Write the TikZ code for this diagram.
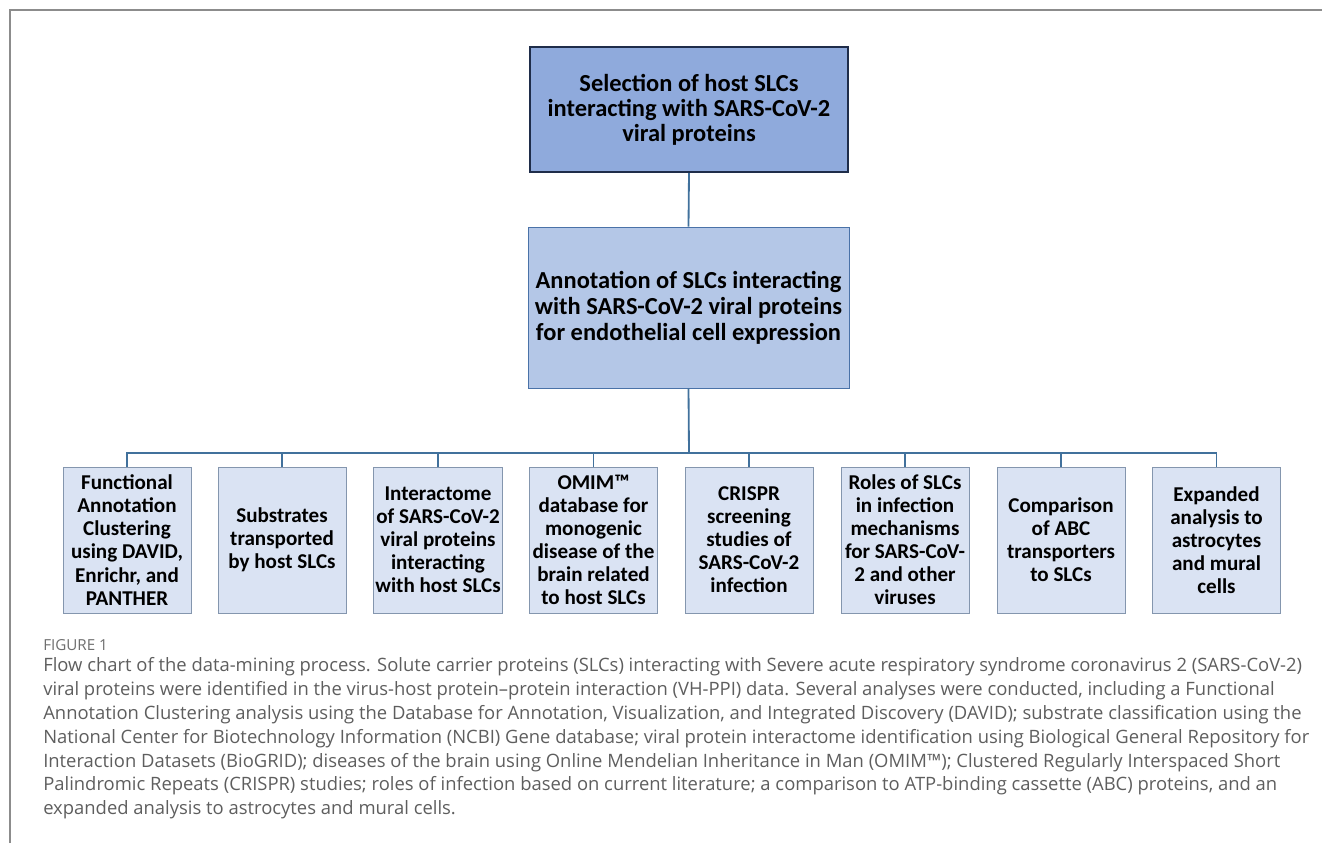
\documentclass[tikz,border=0pt]{standalone}
\usepackage{fontspec}
\setmainfont{Carlito}
\newfontfamily\capfont{Open Sans}
\usetikzlibrary{positioning}
\definecolor{selfill}{HTML}{8FAADC}
\definecolor{seledge}{HTML}{1F2D4A}
\definecolor{annfill}{HTML}{B4C7E7}
\definecolor{annedge}{HTML}{4A72A8}
\definecolor{subfill}{HTML}{DAE3F3}
\definecolor{subedge}{HTML}{8496AE}
\definecolor{linkcol}{HTML}{41719C}
\definecolor{framecol}{HTML}{8C8C8C}
\definecolor{captxt}{HTML}{5E5E5E}
\definecolor{figtxt}{HTML}{6E6E6E}

\begin{document}
\begin{tikzpicture}[x=0.025cm, y=-0.025cm,
  selbox/.style={rectangle, draw=seledge, line width=1.4pt, fill=selfill,
                 minimum width=7.95cm, minimum height=3.125cm, align=center,
                 font=\fontsize{17.4}{17.8}\selectfont\bfseries},
  annbox/.style={rectangle, draw=annedge, line width=0.6pt, fill=annfill,
                 minimum width=8.025cm, minimum height=4.025cm, align=center,
                 font=\fontsize{17.4}{18.6}\selectfont\bfseries},
  subbox/.style={rectangle, draw=subedge, line width=0.6pt, fill=subfill,
                 minimum width=3.2cm, minimum height=3.65cm, align=center,
                 inner sep=1pt, font=\fontsize{15}{16.4}\selectfont\bfseries},
  link/.style={draw=linkcol, line width=1.3pt},
  captext/.style={text=captxt, align=left, inner sep=0pt},
]
\useasboundingbox (0,0) rectangle (1322,843);
% frame (top and left only)
\draw[framecol, line width=1.3pt] (10,843) -- (10,10) -- (1322,10);

\node[selbox] (sel) at (689,109.5) {Selection of host SLCs\\interacting with SARS-CoV-2\\viral proteins};
\node[annbox] (annot) at (688.5,307.5) {Annotation of SLCs interacting\\with SARS-CoV-2 viral proteins\\for endothelial cell expression};

\node[subbox] (b1) at (127,540) {Functional\\Annotation\\Clustering\\using DAVID,\\Enrichr, and\\PANTHER};
\node[subbox] (b2) at (282,540) {Substrates\\transported\\by host SLCs};
\node[subbox] (b3) at (438,540) {Interactome\\of SARS-CoV-2\\viral proteins\\interacting\\with host SLCs};
\node[subbox] (b4) at (593.5,540) {OMIM™\\database for\\monogenic\\disease of the\\brain related\\to host SLCs};
\node[subbox] (b5) at (749,540) {CRISPR\\screening\\studies of\\SARS-CoV-2\\infection};
\node[subbox] (b6) at (905,540) {Roles of SLCs\\in infection\\mechanisms\\for SARS-CoV-\\2 and other\\viruses};
\node[subbox] (b7) at (1061,540) {Comparison\\of ABC\\transporters\\to SLCs};
\node[subbox] (b8) at (1216.5,540) {Expanded\\analysis to\\astrocytes\\and mural\\cells};

\coordinate (bus) at (689,453);
\draw[link] (sel.south) -- (annot.north);
\draw[link] (annot.south) -- (bus);
\foreach \b in {b1,b2,b3,b4,b5,b6,b7,b8}
  \draw[link] (bus) -| (\b.north);

% caption
\node[captext, text=figtxt, anchor=base west, font=\capfont\fontsize{10.8}{12}\selectfont] (fig) at (43,650) {FIGURE 1};
\node[captext, anchor=north west, font=\capfont\fontsize{13.1}{17}\selectfont] (caption) at (43,657) {%
Flow chart of the data-mining process. Solute carrier proteins (SLCs) interacting with Severe acute respiratory syndrome coronavirus 2 (SARS-CoV-2)\\
viral proteins were identified in the virus-host protein–protein interaction (VH-PPI) data. Several analyses were conducted, including a Functional\\
Annotation Clustering analysis using the Database for Annotation, Visualization, and Integrated Discovery (DAVID); substrate classification using the\\
National Center for Biotechnology Information (NCBI) Gene database; viral protein interactome identification using Biological General Repository for\\
Interaction Datasets (BioGRID); diseases of the brain using Online Mendelian Inheritance in Man (OMIM™); Clustered Regularly Interspaced Short\\
Palindromic Repeats (CRISPR) studies; roles of infection based on current literature; a comparison to ATP-binding cassette (ABC) proteins, and an\\
expanded analysis to astrocytes and mural cells.};
\end{tikzpicture}
\end{document}
